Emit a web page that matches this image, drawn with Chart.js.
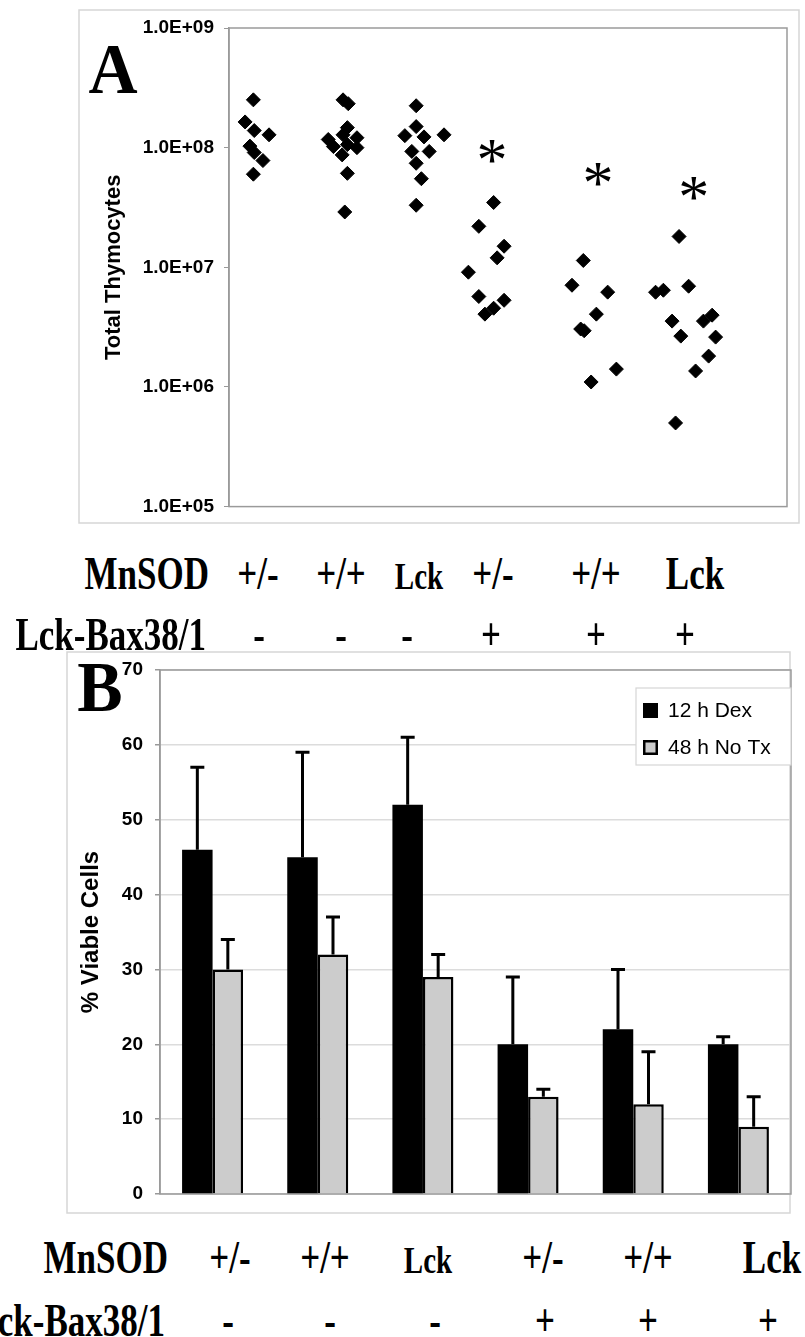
<!DOCTYPE html>
<html><head><meta charset="utf-8">
<script src="https://cdn.jsdelivr.net/npm/chart.js@4.4.1/dist/chart.umd.min.js"></script>
<style>
html,body{margin:0;padding:0;background:#fff;}
body{width:805px;height:1337px;overflow:hidden;position:relative;}
canvas{position:absolute;}
.t{position:absolute;font-family:'Liberation Serif','Times New Roman',serif;font-weight:bold;white-space:nowrap;line-height:1;color:#000;}
</style></head><body>
<canvas id="chartA" width="730" height="522" style="left:75px;top:6px"></canvas>
<canvas id="chartB" width="740" height="575" style="left:60px;top:645px"></canvas>
<div id="labels"></div>
<script>
// ---------- Panel A data (Total Thymocytes, log scale) ----------
const categories = ['+/-', '+/+', 'Lck', '+/-', '+/+', 'Lck'];
const baxRow = ['-', '-', '-', '+', '+', '+'];
const rowTitles = ['MnSOD', 'Lck-Bax38/1'];

const g1Vals = [2.51e8, 1.64e8, 1.39e8, 1.28e8, 1.03e8, 0.91e8, 0.78e8, 0.60e8];
const g1X    = [0.98, 0.885, 0.99, 1.16, 0.94, 0.99, 1.09, 0.98];
const g2Vals = [2.51e8, 2.33e8, 1.47e8, 1.28e8, 1.17e8, 1.21e8, 1.02e8, 1.06e8, 1.00e8, 0.87e8, 0.61e8, 0.29e8];
const g2X    = [2.01, 2.07, 2.06, 2.01, 1.84, 2.17, 1.90, 2.06, 2.17, 2.00, 2.06, 2.03];
const g3Vals = [2.24e8, 1.50e8, 1.26e8, 1.23e8, 1.28e8, 0.93e8, 0.93e8, 0.74e8, 0.55e8, 0.33e8];
const g3X    = [2.85, 2.85, 2.72, 2.94, 3.17, 2.80, 3.00, 2.85, 2.91, 2.85];
const g4Vals = [3.48e7, 2.2e7, 1.5e7, 1.2e7, 9.1e6, 5.7e6, 5.3e6, 4.55e6, 4.06e6];
const g4X    = [3.74, 3.57, 3.86, 3.78, 3.45, 3.57, 3.86, 3.74, 3.64];
const g5Vals = [1.14e7, 7.08e6, 6.2e6, 4.06e6, 3.05e6, 2.95e6, 1.41e6, 1.1e6];
const g5X    = [4.77, 4.64, 5.05, 4.92, 4.74, 4.78, 5.15, 4.86];
const g6Vals = [1.81e7, 6.19e6, 6.43e6, 6.95e6, 3.55e6, 2.66e6, 3.55e6, 3.98e6, 2.61e6, 1.81e6, 1.36e6, 5.0e5];
const g6X    = [5.87, 5.60, 5.69, 5.98, 5.79, 5.89, 6.15, 6.25, 6.29, 6.21, 6.06, 5.83];

const starX = [3.72, 4.94, 6.04];
const starY = [0.93e8, 0.60e8, 0.46e8];

const aTickValues = [1e5, 1e6, 1e7, 1e8, 1e9];
const aTickLabels = ['1.0E+05', '1.0E+06', '1.0E+07', '1.0E+08', '1.0E+09'];

// ---------- Panel B data (% Viable Cells) ----------
const seriesNames = ['12 h Dex', '48 h No Tx'];
const dexMean  = [46, 45, 52, 20, 22, 20];
const dexErr   = [11, 14, 9, 9, 8, 1];
const noTxMean = [30, 32, 29, 13, 12, 9];
const noTxErr  = [4, 5, 3, 1, 7, 4];
const bTickValues = [0, 10, 20, 30, 40, 50, 60, 70];

const SANS = "'Liberation Sans', Arial, sans-serif";

// ---------- Chart A ----------
const groupsA = [[g1X, g1Vals], [g2X, g2Vals], [g3X, g3Vals], [g4X, g4Vals], [g5X, g5Vals], [g6X, g6Vals]];

const frameA = {
  id: 'frameA',
  beforeDraw(chart) {
    const c = chart.ctx;
    c.save();
    c.strokeStyle = '#d6d6d6'; c.lineWidth = 1.5;
    c.strokeRect(4, 4, 720, 513);
    c.restore();
  },
  beforeDatasetsDraw(chart) {
    const c = chart.ctx, a = chart.chartArea;
    c.save();
    c.strokeStyle = '#9a9a9a'; c.lineWidth = 1.5;
    c.strokeRect(a.left, a.top, a.right - a.left, a.bottom - a.top);
    c.restore();
  },
  afterDatasetsDraw(chart) {
    const c = chart.ctx, xs = chart.scales.x, ys = chart.scales.y;
    c.save();
    c.fillStyle = '#000';
    c.font = "normal 62px 'Liberation Serif', 'Times New Roman', serif";
    c.textAlign = 'center'; c.textBaseline = 'alphabetic';
    starX.forEach((sx, i) => {
      const m = c.measureText('*');
      const px = xs.getPixelForValue(sx), py = ys.getPixelForValue(starY[i]);
      c.fillText('*', px, py + (m.actualBoundingBoxAscent - m.actualBoundingBoxDescent) / 2);
    });
    c.restore();
  }
};

new Chart(document.getElementById('chartA'), {
  type: 'scatter',
  data: {
    datasets: groupsA.map(([xs, vs]) => ({
      data: xs.map((x, i) => ({ x: x, y: vs[i] })),
      pointStyle: 'rectRot', pointRadius: 7, pointHoverRadius: 7,
      backgroundColor: '#000', borderColor: '#000', borderWidth: 1
    }))
  },
  options: {
    responsive: false, animation: false, events: [],
    layout: { padding: { left: 22, top: 22, right: 18, bottom: 21 } },
    plugins: { legend: { display: false }, tooltip: { enabled: false } },
    scales: {
      x: { type: 'linear', display: false, min: 0.7, max: 7.11 },
      y: {
        type: 'logarithmic', min: 1e5, max: 1e9,
        afterBuildTicks: s => { s.ticks = aTickValues.map(v => ({ value: v })); },
        afterFit: s => { s.width = 132; },
        ticks: { callback: (v, i) => aTickLabels[i], font: { family: SANS, size: 19, weight: 'bold' }, color: '#000', padding: 10, autoSkip: false },
        grid: { drawOnChartArea: false, drawTicks: true, tickLength: 5, color: '#999' },
        border: { display: true, color: '#999', width: 1.5 },
        title: { display: true, text: 'Total Thymocytes', font: { family: SANS, size: 22, weight: 'bold' }, color: '#000', padding: { top: 4, bottom: 4 } }
      }
    }
  },
  plugins: [frameA]
});

// ---------- Chart B ----------
const errsB = [dexErr, noTxErr];
const frameB = {
  id: 'frameB',
  beforeDraw(chart) {
    const c = chart.ctx;
    c.save();
    c.strokeStyle = '#d6d6d6'; c.lineWidth = 1.5;
    c.strokeRect(7, 7, 723, 561);
    c.restore();
  },
  beforeDatasetsDraw(chart) {
    const c = chart.ctx, a = chart.chartArea;
    c.save();
    c.strokeStyle = '#9a9a9a'; c.lineWidth = 1.5;
    c.strokeRect(a.left, a.top, a.right - a.left, a.bottom - a.top);
    c.restore();
  },
  afterDatasetsDraw(chart) {
    const c = chart.ctx, ys = chart.scales.y, a = chart.chartArea;
    c.save();
    c.strokeStyle = '#000'; c.lineWidth = 3;
    errsB.forEach((errs, di) => {
      const meta = chart.getDatasetMeta(di);
      meta.data.forEach((bar, i) => {
        const top = ys.getPixelForValue(chart.data.datasets[di].data[i] + errs[i]);
        c.beginPath();
        c.moveTo(bar.x, bar.y); c.lineTo(bar.x, top);
        c.moveTo(bar.x - 7, top); c.lineTo(bar.x + 7, top);
        c.stroke();
      });
    });
    // legend box
    const lw = 155, lh = 77, lx = a.right - lw, ly = a.top + 18;
    c.fillStyle = '#fff'; c.fillRect(lx, ly, lw, lh);
    c.strokeStyle = '#d6d6d6'; c.lineWidth = 1.2; c.strokeRect(lx, ly, lw, lh);
    c.font = "21px " + SANS; c.textBaseline = 'middle'; c.textAlign = 'left';
    chart.data.datasets.forEach((ds, i) => {
      const cy = ly + 22 + i * 37;
      c.fillStyle = ds.backgroundColor;
      c.fillRect(lx + 7, cy - 7, 15, 15);
      if (ds.borderWidth) { c.strokeStyle = '#000'; c.lineWidth = 2.5; c.strokeRect(lx + 8.25, cy - 5.75, 12.5, 12.5); }
      c.fillStyle = '#000';
      c.fillText(ds.label, lx + 32, cy + 1);
    });
    c.restore();
  }
};

new Chart(document.getElementById('chartB'), {
  type: 'bar',
  data: {
    labels: categories,
    datasets: [
      { label: seriesNames[0], data: dexMean, backgroundColor: '#000', borderColor: '#000', borderWidth: 0 },
      { label: seriesNames[1], data: noTxMean, backgroundColor: '#cccccc', borderColor: '#000', borderWidth: 2.5 }
    ]
  },
  options: {
    responsive: false, animation: false, events: [],
    layout: { padding: { left: 13, top: 25, right: 9, bottom: 26 } },
    datasets: { bar: { categoryPercentage: 0.58, barPercentage: 1 } },
    plugins: { legend: { display: false }, tooltip: { enabled: false } },
    scales: {
      x: { display: false },
      y: {
        min: 0, max: 70,
        afterBuildTicks: s => { s.ticks = bTickValues.map(v => ({ value: v })); },
        afterFit: s => { s.width = 87; },
        ticks: { font: { family: SANS, size: 19, weight: 'bold' }, color: '#000', padding: 12, autoSkip: false },
        grid: { color: '#dcdcdc', lineWidth: 1.5, drawTicks: true, tickLength: 5, tickColor: '#999' },
        border: { display: true, color: '#999', width: 1.5 },
        title: { display: true, text: '% Viable Cells', font: { family: SANS, size: 24, weight: 'bold' }, color: '#000', padding: { top: 4, bottom: 4 } }
      }
    }
  },
  plugins: [frameB]
});

// ---------- HTML text labels (panel letters and genotype rows) ----------
const host = document.getElementById('labels');
function addText(txt, x, baseline, size, align, sy) {
  const d = document.createElement('div');
  d.className = 't';
  d.textContent = txt;
  d.style.fontSize = size + 'px';
  d.style.top = (baseline - 0.8375 * size) + 'px';
  d.style.left = x + 'px';
  const tx = align === 'right' ? '-100%' : align === 'left' ? '0' : '-50%';
  d.style.transformOrigin = '50% ' + (0.8375 * size) + 'px';
  d.style.transform = 'translateX(' + tx + ') scaleY(' + sy + ')';
  host.appendChild(d);
}
addText('A', 113, 93, 68, 'center', 1.05);
addText('B', 100, 711, 68, 'center', 1.05);

const rowsLayout = [
  { base: 589, titleRight: 209, xs: [258, 341, 419, 493, 596, 695], texts: categories, title: rowTitles[0] },
  { base: 650, titleRight: 206, xs: [259, 341, 407, 491, 596, 685], texts: baxRow, title: rowTitles[1] },
  { base: 1273, titleRight: 168, xs: [230, 325, 428, 543, 648, 772], texts: categories, title: rowTitles[0] },
  { base: 1336, titleRight: 165, xs: [228, 330, 435, 545, 648, 768], texts: baxRow, title: rowTitles[1] }
];
rowsLayout.forEach(r => {
  addText(r.title, r.titleRight, r.base, 35, 'right', 1.3);
  r.texts.forEach((t, i) => addText(t, r.xs[i], r.base, (i === 2 && t === 'Lck') ? 29 : 35, 'center', 1.3));
});
</script>
</body></html>
